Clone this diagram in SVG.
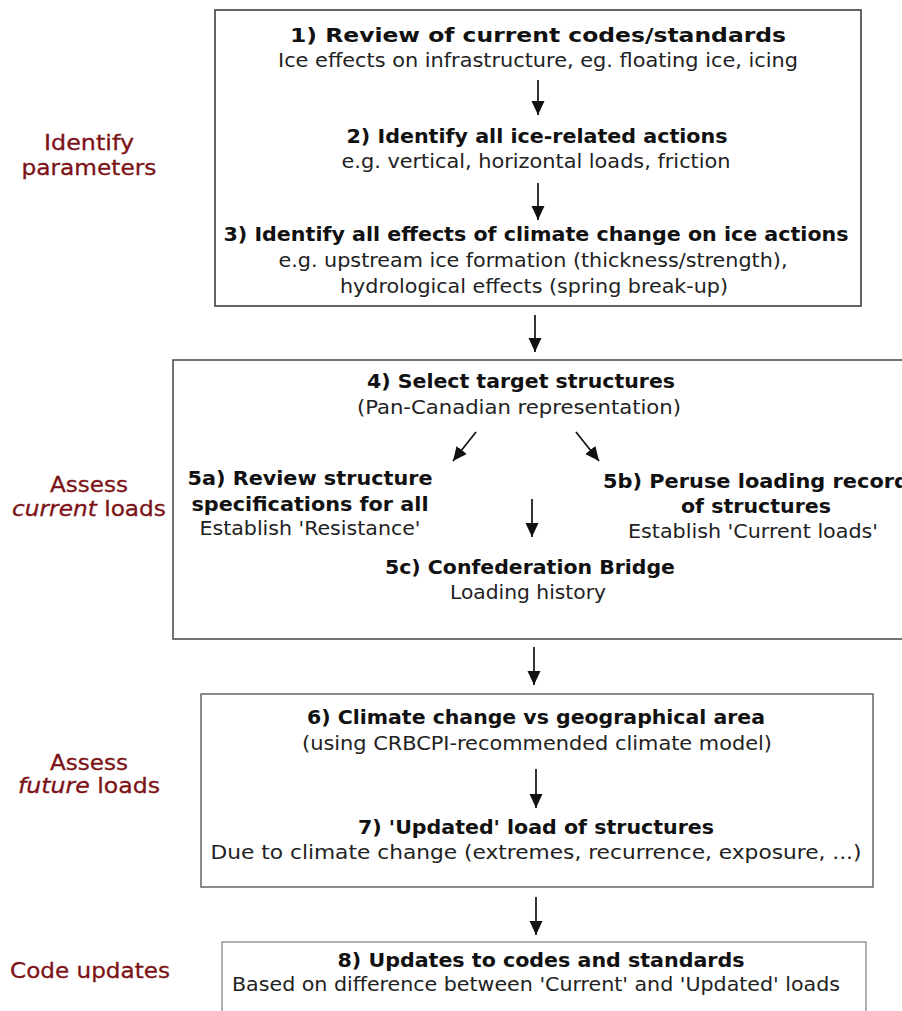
<svg xmlns="http://www.w3.org/2000/svg" width="902" height="1011" viewBox="0 0 902 1011">
<style>
.b{font-family:"DejaVu Sans Condensed","DejaVu Sans",sans-serif;font-weight:bold;font-size:19.5px;fill:#111;text-anchor:middle}
.r{font-family:"DejaVu Sans Condensed","DejaVu Sans",sans-serif;font-size:20px;fill:#222;text-anchor:middle}
.s{font-family:"DejaVu Sans",sans-serif;font-size:22px;fill:#7c1216;text-anchor:middle;stroke:#7c1216;stroke-width:0.3}
.box{fill:#fff;stroke-width:1.5}
.c{stroke:#111;stroke-width:1.7;fill:none;marker-end:url(#ah)}
</style>
<defs>
<marker id="ah" viewBox="0 0 14 14" refX="14" refY="7" markerWidth="14" markerHeight="14" markerUnits="userSpaceOnUse" orient="auto">
<path d="M0,0.5 L14,7 L0,13.5 z" fill="#111"/>
</marker>
</defs>
<rect width="902" height="1011" fill="#fff"/>

<g id="labels">
<text class="s" x="89" y="150" textLength="90" lengthAdjust="spacingAndGlyphs">Identify</text>
<text class="s" x="89" y="175" textLength="135" lengthAdjust="spacingAndGlyphs">parameters</text>
<text class="s" x="89" y="492" textLength="78" lengthAdjust="spacingAndGlyphs">Assess</text>
<text class="s" x="89" y="516" textLength="154" lengthAdjust="spacingAndGlyphs"><tspan font-style="italic">current</tspan> loads</text>
<text class="s" x="89" y="770" textLength="78" lengthAdjust="spacingAndGlyphs">Assess</text>
<text class="s" x="89" y="793" textLength="142" lengthAdjust="spacingAndGlyphs"><tspan font-style="italic">future</tspan> loads</text>
<text class="s" x="90" y="978" textLength="160" lengthAdjust="spacingAndGlyphs">Code updates</text>
</g>

<g id="node-box1">
<rect class="box" x="215" y="10" width="646" height="296" stroke="#333"/>
<g id="node-1">
<text class="b" x="538" y="42" textLength="496" lengthAdjust="spacingAndGlyphs">1) Review of current codes/standards</text>
<text class="r" x="538" y="67" textLength="520" lengthAdjust="spacingAndGlyphs">Ice effects on infrastructure, eg. floating ice, icing</text>
</g>
<g id="node-2">
<text class="b" x="537" y="143" textLength="381" lengthAdjust="spacingAndGlyphs">2) Identify all ice-related actions</text>
<text class="r" x="536" y="168" textLength="389" lengthAdjust="spacingAndGlyphs">e.g. vertical, horizontal loads, friction</text>
</g>
<g id="node-3">
<text class="b" x="536" y="241" textLength="625" lengthAdjust="spacingAndGlyphs">3) Identify all effects of climate change on ice actions</text>
<text class="r" x="533" y="267" textLength="509" lengthAdjust="spacingAndGlyphs">e.g. upstream ice formation (thickness/strength),</text>
<text class="r" x="534" y="293" textLength="388" lengthAdjust="spacingAndGlyphs">hydrological effects (spring break-up)</text>
</g>
</g>

<g id="node-box2">
<rect class="box" x="173" y="360" width="740" height="279" stroke="#444"/>
<g id="node-4">
<text class="b" x="521" y="388" textLength="308" lengthAdjust="spacingAndGlyphs">4) Select target structures</text>
<text class="r" x="519" y="414" textLength="324" lengthAdjust="spacingAndGlyphs">(Pan-Canadian representation)</text>
</g>
<g id="node-5a">
<text class="b" x="310" y="485" textLength="245" lengthAdjust="spacingAndGlyphs">5a) Review structure</text>
<text class="b" x="310" y="511" textLength="237" lengthAdjust="spacingAndGlyphs">specifications for all</text>
<text class="r" x="310" y="535" textLength="221" lengthAdjust="spacingAndGlyphs">Establish 'Resistance'</text>
</g>
<g id="node-5b">
<text class="b" x="756" y="488" textLength="306" lengthAdjust="spacingAndGlyphs">5b) Peruse loading record</text>
<text class="b" x="756" y="513" textLength="150" lengthAdjust="spacingAndGlyphs">of structures</text>
<text class="r" x="753" y="538" textLength="250" lengthAdjust="spacingAndGlyphs">Establish 'Current loads'</text>
</g>
<g id="node-5c">
<text class="b" x="530" y="574" textLength="290" lengthAdjust="spacingAndGlyphs">5c) Confederation Bridge</text>
<text class="r" x="528" y="599" textLength="156" lengthAdjust="spacingAndGlyphs">Loading history</text>
</g>
</g>

<g id="node-box3">
<rect class="box" x="201" y="694" width="672" height="193" stroke="#666"/>
<g id="node-6">
<text class="b" x="536" y="724" textLength="458" lengthAdjust="spacingAndGlyphs">6) Climate change vs geographical area</text>
<text class="r" x="537" y="750" textLength="470" lengthAdjust="spacingAndGlyphs">(using CRBCPI-recommended climate model)</text>
</g>
<g id="node-7">
<text class="b" x="536" y="834" textLength="356" lengthAdjust="spacingAndGlyphs">7) 'Updated' load of structures</text>
<text class="r" x="536" y="859" textLength="651" lengthAdjust="spacingAndGlyphs">Due to climate change (extremes, recurrence, exposure, ...)</text>
</g>
</g>

<g id="node-8">
<rect class="box" x="222" y="942" width="644" height="80" stroke="#999"/>
<text class="b" x="541" y="967" textLength="407" lengthAdjust="spacingAndGlyphs">8) Updates to codes and standards</text>
<text class="r" x="536" y="991" textLength="608" lengthAdjust="spacingAndGlyphs">Based on difference between 'Current' and 'Updated' loads</text>
</g>

<g id="connectors">
<line class="c" x1="538" y1="80" x2="538" y2="115"/>
<line class="c" x1="538" y1="183" x2="538" y2="220"/>
<line class="c" x1="535" y1="315" x2="535" y2="352"/>
<line class="c" x1="476" y1="432" x2="453" y2="461"/>
<line class="c" x1="576" y1="432" x2="599" y2="461"/>
<line class="c" x1="532" y1="499" x2="532" y2="537"/>
<line class="c" x1="534" y1="647" x2="534" y2="685"/>
<line class="c" x1="536" y1="769" x2="536" y2="808"/>
<line class="c" x1="536" y1="897" x2="536" y2="935"/>
</g>
</svg>
